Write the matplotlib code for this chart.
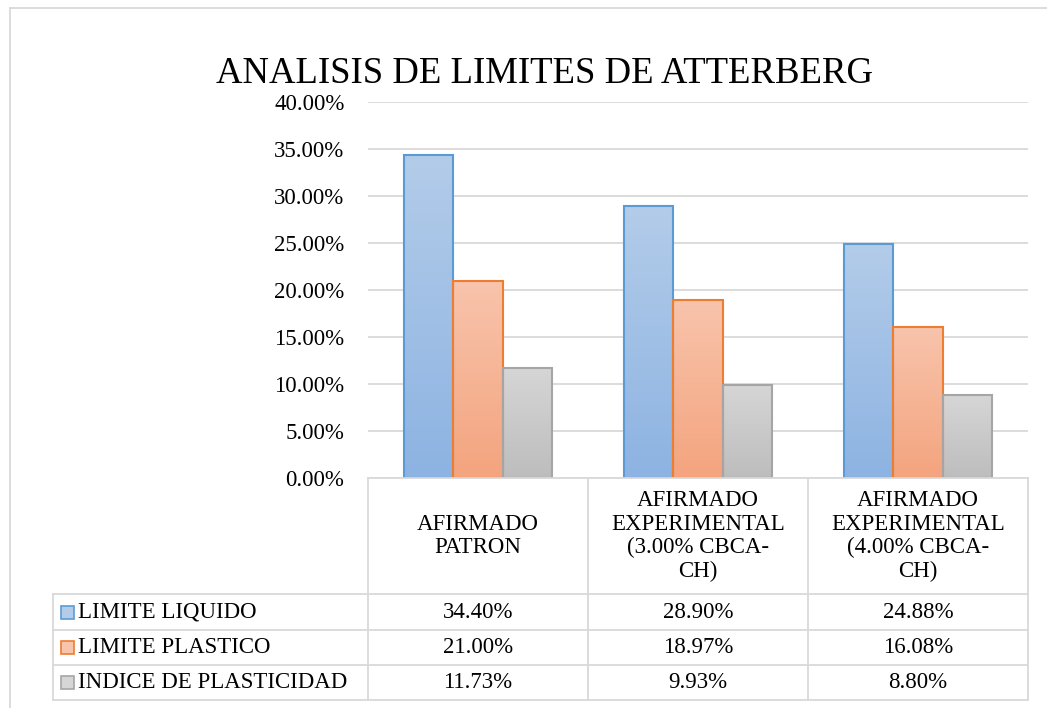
import numpy as np
import matplotlib.pyplot as plt
from matplotlib.lines import Line2D
from matplotlib.patches import Rectangle
from matplotlib.colors import LinearSegmentedColormap

plt.rcParams['font.family'] = ['Liberation Serif', 'DejaVu Serif']

# data
categories = ["AFIRMADO\nPATRON",
              "AFIRMADO\nEXPERIMENTAL\n(3.00% CBCA-\nCH)",
              "AFIRMADO\nEXPERIMENTAL\n(4.00% CBCA-\nCH)"]
series = ["LIMITE LIQUIDO", "LIMITE PLASTICO", "INDICE DE PLASTICIDAD"]
limite_liquido = [34.40, 28.90, 24.88]
limite_plastico = [21.00, 18.97, 16.08]
indice_plasticidad = [11.73, 9.93, 8.80]
values = [limite_liquido, limite_plastico, indice_plasticidad]

# colours: (top of gradient, bottom of gradient, edge)
styles = [("#b3cce9", "#8db3e2", "#5b9bd5"),
          ("#f8c4ac", "#f4a47e", "#ed7d31"),
          ("#d6d6d6", "#bdbdbd", "#a5a5a5")]
grid_c = "#d9d9d9"
fs = 16.5

W, H = 1047, 708
fig = plt.figure(figsize=(W / 100, H / 100), dpi=100)


def fx(px):
    return px / W


def fy(py):
    return 1 - py / H


def hline(x0, x1, y, c=grid_c, lw=1.3):
    fig.add_artist(Line2D([fx(x0), fx(x1)], [fy(y), fy(y)], color=c, lw=lw,
                          transform=fig.transFigure))


def vline(x, y0, y1, c=grid_c, lw=1.3):
    fig.add_artist(Line2D([fx(x), fx(x)], [fy(y0), fy(y1)], color=c, lw=lw,
                          transform=fig.transFigure))


# outer chart frame (cropped)
hline(10, W, 8)
vline(10, 8, H)

left, right, top, bottom = 368, 1028, 102, 478
ax = fig.add_axes([fx(left), fy(bottom), fx(right - left), (bottom - top) / H])

n = len(series)
bw = 0.223
x = np.arange(len(categories))
for i, (vals, st) in enumerate(zip(values, styles)):
    cmap = LinearSegmentedColormap.from_list("g%d" % i, [st[1], st[0]])
    for j, v in enumerate(vals):
        x0 = x[j] + (i - (n - 1) / 2) * bw - bw / 2
        grad = np.linspace(0, 1, 256).reshape(-1, 1)
        ax.imshow(grad, extent=[x0, x0 + bw, 0, v], origin='lower',
                  aspect='auto', cmap=cmap, zorder=2)
        ax.add_patch(Rectangle((x0, 0), bw, v, fill=False, edgecolor=st[2],
                               lw=1.5, zorder=3))

ax.set_xlim(-0.5, len(categories) - 0.5)
ax.set_ylim(0, 40)
ax.set_yticks(np.arange(0, 41, 5))
ax.set_yticklabels(["%.2f%%" % t for t in np.arange(0, 41, 5)], fontsize=fs)
ax.tick_params(axis='y', length=0, pad=17)
ax.set_xticks([])
ax.grid(axis='y', color=grid_c, lw=1.3, zorder=0)
ax.set_axisbelow(True)
for s in ax.spines.values():
    s.set_visible(False)

fig.text(fx(545), fy(74), "ANALISIS DE LIMITES DE ATTERBERG", fontsize=26.5,
         ha='center', va='center')

# data table under the plot
cols = [368, 588, 808, 1028]
rows = [594, 630, 665, 700]
hline(368, 1028, 478)
for cx in cols:
    vline(cx, 478, 700)
for ry in rows:
    hline(53, 1028, ry)
vline(53, 594, 700)

for j, cat in enumerate(categories):
    cx = (cols[j] + cols[j + 1]) / 2
    fig.text(fx(cx), fy(536), cat, fontsize=fs, ha='center', va='center',
             linespacing=1.16)

for i, (name, vals, st) in enumerate(zip(series, values, styles)):
    cy = (rows[i] + rows[i + 1]) / 2
    sw = 13
    fig.add_artist(Rectangle((fx(61), fy(cy + sw / 2)), sw / W, sw / H,
                             facecolor=st[0], edgecolor=st[2], lw=1.2,
                             transform=fig.transFigure))
    fig.text(fx(78), fy(cy), name, fontsize=fs, ha='left', va='center')
    for j, v in enumerate(vals):
        cx = (cols[j] + cols[j + 1]) / 2
        fig.text(fx(cx), fy(cy), "%.2f%%" % v, fontsize=fs, ha='center',
                 va='center')

fig.savefig("out.png", dpi=100)
